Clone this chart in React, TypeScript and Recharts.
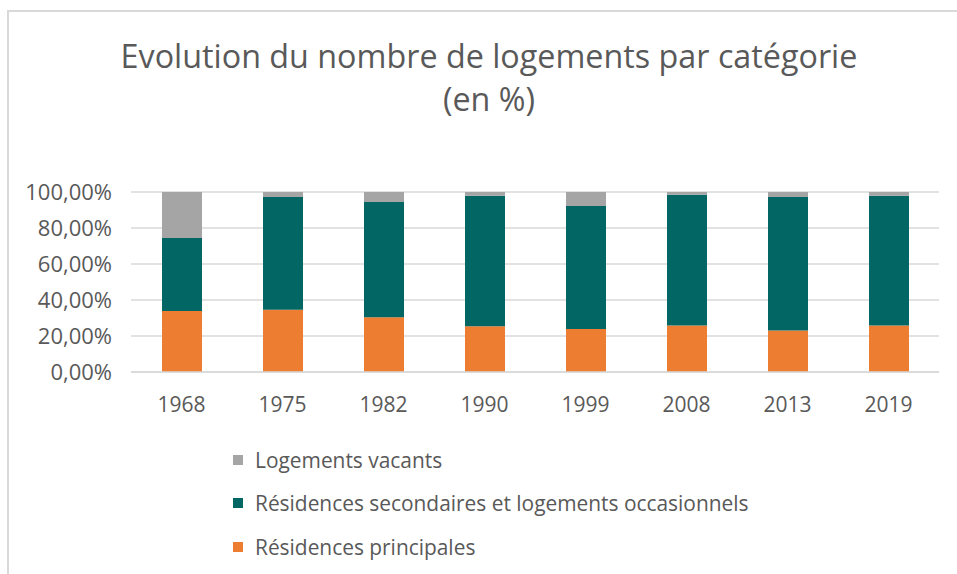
import { BarChart, Bar, XAxis, YAxis, CartesianGrid } from 'recharts'

const YEARS = ['1968', '1975', '1982', '1990', '1999', '2008', '2013', '2019']
const PRINCIPALES = [33.9, 34.6, 30.4, 25.4, 23.9, 25.9, 23.1, 25.9]
const SECONDAIRES = [40.5, 62.6, 64.0, 72.5, 68.3, 72.6, 74.1, 72.0]
const VACANTS = [25.6, 2.8, 5.6, 2.1, 7.8, 1.5, 2.8, 2.1]
const Y_TICKS = [0, 20, 40, 60, 80, 100]

const SERIES = [
  { key: 'vacants', name: 'Logements vacants', color: '#A5A5A5' },
  { key: 'secondaires', name: 'Résidences secondaires et logements occasionnels', color: '#026665' },
  { key: 'principales', name: 'Résidences principales', color: '#ED7D31' },
]

const data = YEARS.map((year, i) => ({
  year,
  principales: PRINCIPALES[i],
  secondaires: SECONDAIRES[i],
  vacants: VACANTS[i],
}))

const FONT = '"Open Sans", sans-serif'
const TEXT = '#595959'

const fmt = (v: number) => v.toFixed(2).replace('.', ',') + '%'

function LegendBox() {
  return (
    <div style={{ fontFamily: FONT, fontSize: 20.9, color: TEXT }}>
      {SERIES.map(s => (
        <div key={s.key} style={{ display: 'flex', alignItems: 'center', height: 43.5 }}>
          <span style={{ width: 10, height: 10, background: s.color, marginRight: 12, display: 'inline-block' }} />
          <span>{s.name}</span>
        </div>
      ))}
    </div>
  )
}

export default function App() {
  return (
    <div style={{ position: 'fixed', left: 0, top: 0, width: 957, height: 574, background: '#fff', overflow: 'hidden' }}>
      <div style={{ position: 'absolute', left: 7, top: 10, width: 1000, height: 600, border: '2px solid #D9D9D9' }} />
      <div style={{ position: 'absolute', left: 0, top: 34, width: 978, textAlign: 'center', fontFamily: FONT, fontSize: 32.3, color: TEXT, lineHeight: '43px' }}>
        <div>Evolution du nombre de logements par catégorie</div>
        <div>(en %)</div>
      </div>
      <div style={{ position: 'absolute', left: 0, top: 0 }}>
        <BarChart width={957} height={574} data={data} margin={{ top: 192, right: 18, bottom: 172, left: 0 }}>
          <CartesianGrid vertical={false} stroke="#D9D9D9" strokeWidth={1.5} />
          <XAxis
            dataKey="year"
            height={30}
            axisLine={{ stroke: '#D9D9D9', strokeWidth: 1.5 }}
            tickLine={false}
            tickSize={0}
            tickMargin={25}
            tick={{ fill: TEXT, fontSize: 21, fontFamily: FONT }}
          />
          <YAxis
            width={131}
            domain={[0, 100]}
            ticks={Y_TICKS}
            interval={0}
            tickFormatter={fmt}
            axisLine={false}
            tickLine={false}
            tickSize={0}
            tickMargin={19}
            tick={{ fill: TEXT, fontSize: 22, fontFamily: FONT }}
          />
          <Bar dataKey="principales" stackId="a" fill="#ED7D31" barSize={40} isAnimationActive={false} />
          <Bar dataKey="secondaires" stackId="a" fill="#026665" barSize={40} isAnimationActive={false} />
          <Bar dataKey="vacants" stackId="a" fill="#A5A5A5" barSize={40} isAnimationActive={false} />
        </BarChart>
      </div>
      <div style={{ position: 'absolute', left: 233, top: 438 }}>
        <LegendBox />
      </div>
    </div>
  )
}
